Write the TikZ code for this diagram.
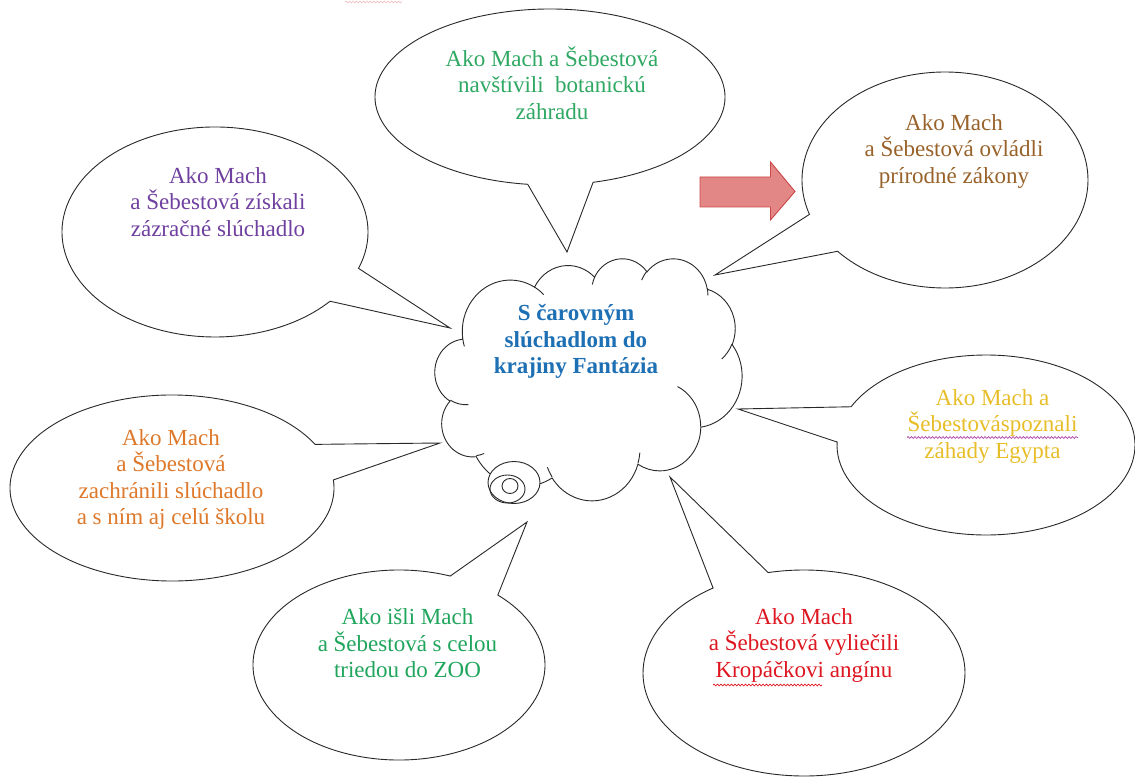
\documentclass[tikz,border=0pt]{standalone}
\usepackage{fontspec}
\setmainfont{Liberation Serif}
\usetikzlibrary{decorations.pathmorphing}
\definecolor{cgreenA}{RGB}{46,168,98}
\definecolor{cpurple}{RGB}{112,64,160}
\definecolor{cbrown}{RGB}{152,98,42}
\definecolor{cyellow}{RGB}{232,190,40}
\definecolor{corange}{RGB}{222,120,42}
\definecolor{cgreenB}{RGB}{32,165,92}
\definecolor{cred}{RGB}{222,22,32}
\definecolor{cblue}{RGB}{30,112,180}
\definecolor{arrowfill}{RGB}{226,134,134}
\definecolor{arrowline}{RGB}{204,72,72}
\definecolor{outline}{RGB}{40,40,40}
\tikzset{
  bubble/.style={draw=outline, line width=0.9pt, fill=white, line join=miter},
  cloudline/.style={draw=outline, line width=0.9pt},
  txt/.style={align=center, inner sep=0pt, anchor=north,
    font=\fontsize{23}{26.3}\selectfont, execute at begin node={\strut}},
  squiggle/.style={decorate, decoration={snake, amplitude=0.9pt, segment length=3.5pt}, line width=0.7pt},
}
% cx, cy, rx, ry, b1x, b1y, b2x, b2y, tip (pixel coordinates, y downwards)
\newcommand{\speechbubble}[9]{%
  \pgfmathsetmacro\bta{atan2((#2-#6)/#4,(#5-#1)/#3)}%
  \pgfmathsetmacro\btb{atan2((#2-#8)/#4,(#7-#1)/#3)}%
  \pgfmathsetmacro\btd{mod(\btb-\bta+720,360)}%
  \pgfmathsetmacro\bts{\btd>180 ? \bta : \btb}%
  \pgfmathsetmacro\bte{\btd>180 ? \bta+\btd : \btb+360-\btd}%
  \draw[bubble] ({#1+#3*cos(\bts)},{-#2+#4*sin(\bts)})
    arc[start angle=\bts, end angle=\bte, x radius=#3pt, y radius=#4pt] -- (#9) -- cycle;
}
% DrawingML arcTo: visual start angle / sweep -> parametric start/end angles
\newcommand{\ooang}[6]{%
  \pgfmathsetmacro#1{atan2(#3*sin(#5),#4*cos(#5))}%
  \pgfmathsetmacro\ootmp{atan2(#3*sin(#5+#6),#4*cos(#5+#6))}%
  \pgfmathsetmacro#2{#1+mod(\ootmp-#1+720,360)}%
}
\begin{document}
\begin{tikzpicture}[x=1pt,y=1pt]
\fill[white] (0,0) rectangle (1135,-778);
\useasboundingbox (0,0) rectangle (1135,-778);

% tips of the callouts
\coordinate (tipTop) at (567,-252);
\coordinate (tipTL) at (450,-328);
\coordinate (tipTR) at (715,-275);
\coordinate (tipMR) at (738,-409);
\coordinate (tipML) at (440,-443);
\coordinate (tipBL) at (527,-522);
\coordinate (tipBR) at (670,-477);

% callouts
\speechbubble{550}{97}{175}{88}{527}{187}{595}{186}{tipTop}
\speechbubble{215}{232}{153}{105}{365}{270}{333}{303}{tipTL}
\speechbubble{945}{180}{143}{108}{807}{215}{835}{253}{tipTR}
\speechbubble{986}{445}{149}{90}{852}{407}{837}{442}{tipMR}
\speechbubble{172}{488}{162}{93}{313}{445}{332}{480}{tipML}
\speechbubble{399}{665}{146}{95}{452}{573}{505}{590}{tipBL}
\speechbubble{804}{673}{161}{103}{712}{587}{768}{572}{tipBR}

% central cloud (Word cloud geometry, units of 1/10)
\ooang{\sA}{\eA}{675.3}{919.0}{-190.48748}{123.78053}
\ooang{\sB}{\eB}{533.3}{726.7}{-144.10238}{89.94523}
\ooang{\sC}{\eC}{436.5}{594.5}{-145.80792}{99.72302}
\ooang{\sD}{\eD}{485.7}{659.5}{-130.98607}{117.24173}
\ooang{\sE}{\eE}{533.3}{727.3}{-78.70888}{109.02692}
\ooang{\sF}{\eF}{677.5}{922.0}{-46.26725}{130.269}
\ooang{\sG}{\eG}{578.5}{786.7}{0.62502}{114.03333}
\ooang{\sH}{\eH}{675.2}{921.5}{22.4516}{115.17255}
\ooang{\sI}{\eI}{772.0}{1054.3}{66.24263}{75.71102}
\ooang{\sJ}{\eJ}{436.0}{591.8}{-274.94208}{146.73557}
\ooang{\sK}{\eK}{434.5}{594.5}{-246.8285}{152.51885}
\begin{scope}[shift={(435,-258)}, xscale=0.0710648, yscale=-0.0560185]
  \coordinate (cloud) at (2160,2160);
  \draw[cloudline, fill=white] (390,1437)
    arc[start angle=\sA, end angle=\eA, x radius=675.3, y radius=919.0]
    arc[start angle=\sB, end angle=\eB, x radius=533.3, y radius=726.7]
    arc[start angle=\sC, end angle=\eC, x radius=436.5, y radius=594.5]
    arc[start angle=\sD, end angle=\eD, x radius=485.7, y radius=659.5]
    arc[start angle=\sE, end angle=\eE, x radius=533.3, y radius=727.3]
    arc[start angle=\sF, end angle=\eF, x radius=677.5, y radius=922.0]
    arc[start angle=\sG, end angle=\eG, x radius=578.5, y radius=786.7]
    arc[start angle=\sH, end angle=\eH, x radius=675.2, y radius=921.5]
    arc[start angle=\sI, end angle=\eI, x radius=772.0, y radius=1054.3]
    arc[start angle=\sJ, end angle=\eJ, x radius=436.0, y radius=591.8]
    arc[start angle=\sK, end angle=\eK, x radius=434.5, y radius=594.5]
    -- cycle;
  % inner creases
  \ooang{\ca}{\cea}{434.5}{594.5}{86.742}{26.4295}
  \draw[cloudline] (469.3,2617.7) arc[start angle=\ca, end angle=\cea, x radius=434.5, y radius=594.5];
  \ooang{\ca}{\cea}{436.0}{591.8}{73.61047}{11.44747}
  \draw[cloudline] (692.8,3489.9) arc[start angle=\ca, end angle=\cea, x radius=436.0, y radius=591.8];
  \ooang{\ca}{\cea}{675.2}{921.5}{137.62415}{14.0811}
  \draw[cloudline] (1647.8,3909.0) arc[start angle=\ca, end angle=\cea, x radius=675.2, y radius=921.5];
  \ooang{\ca}{\cea}{675.2}{921.5}{6.45327}{15.99835}
  \draw[cloudline] (2882.7,3475.1) arc[start angle=\ca, end angle=\cea, x radius=675.2, y radius=921.5];
  \ooang{\ca}{\cea}{578.5}{786.7}{-70.29235}{70.91737}
  \draw[cloudline] (3412.9,2295.4) arc[start angle=\ca, end angle=\cea, x radius=578.5, y radius=786.7];
  \ooang{\ca}{\cea}{533.3}{727.3}{30.31803}{27.7515}
  \draw[cloudline] (4179.8,1535.4) arc[start angle=\ca, end angle=\cea, x radius=533.3, y radius=727.3];
  \ooang{\ca}{\cea}{485.7}{659.5}{-13.74433}{14.8589}
  \draw[cloudline] (3832.4,542.6) arc[start angle=\ca, end angle=\cea, x radius=485.7, y radius=659.5];
  \ooang{\ca}{\cea}{485.7}{659.5}{-149.18145}{18.19537}
  \draw[cloudline] (2907.8,395.2) arc[start angle=\ca, end angle=\cea, x radius=485.7, y radius=659.5];
  \ooang{\ca}{\cea}{436.5}{594.5}{-163.49427}{17.68635}
  \draw[cloudline] (2214.1,472.0) arc[start angle=\ca, end angle=\cea, x radius=436.5, y radius=594.5];
  \ooang{\ca}{\cea}{675.3}{919.0}{-66.70695}{12.31935}
  \draw[cloudline] (1400.0,519.2) arc[start angle=\ca, end angle=\cea, x radius=675.3, y radius=919.0];
  \ooang{\ca}{\cea}{675.3}{919.0}{157.65435}{11.85817}
  \draw[cloudline] (412.7,1578.9) arc[start angle=\ca, end angle=\cea, x radius=675.3, y radius=919.0];
\end{scope}
% thought-bubble ellipses
\draw[bubble] (514,-482.5) ellipse[x radius=26pt, y radius=21pt];
\draw[cloudline] (507.5,-489) ellipse[x radius=17.5pt, y radius=14pt];
\draw[cloudline] (510,-486) ellipse[x radius=8pt, y radius=7.5pt];

% red arrow
\draw[fill=arrowfill, draw=arrowline, line width=0.9pt, line join=miter]
  (700,-177) -- (770.5,-177) -- (770.5,-162) -- (795,-191.5) -- (770.5,-220)
  -- (770.5,-207) -- (700,-207) -- cycle;

% texts
\node[txt, font=\fontsize{23}{26.3}\selectfont\bfseries, text=cblue] (title) at (576,-304.5)
  {S čarovným\\slúchadlom do\\krajiny Fantázia};
\node[txt, text=cgreenA] (ttop) at (552,-46.5)
  {Ako Mach a Šebestová\\navštívili~ botanickú\\záhradu};
\node[txt, text=cpurple] (ttl) at (218,-167.5)
  {Ako Mach\\a Šebestová získali\\zázračné slúchadlo};
\node[txt, text=cbrown] (ttr) at (954,-114.5)
  {Ako Mach\\a Šebestová ovládli\\prírodné zákony};
\node[txt, text=cyellow] (tmr) at (992.5,-389.5)
  {Ako Mach a\\Šebestováspoznali\\záhady Egypta};
\node[txt, text=corange] (tml) at (171,-429.5)
  {Ako Mach\\a Šebestová\\zachránili slúchadlo\\a s ním aj celú školu};
\node[txt, text=cgreenB] (tbl) at (407.5,-608.5)
  {Ako išli Mach\\a Šebestová s celou\\triedou do ZOO};
\node[txt, text=cred] (tbr) at (804,-608.5)
  {Ako Mach\\a Šebestová vyliečili\\Kropáčkovi angínu};

% spelling squiggles
\draw[squiggle, draw={rgb,255:red,176;green,70;blue,170}] (907,-437.5) -- (1078,-437.5);
\draw[squiggle, draw=cred] (713,-685) -- (822,-685);
\draw[squiggle, draw={rgb,255:red,242;green,196;blue,196}] (345,-2) -- (402,-2);
\end{tikzpicture}
\end{document}
